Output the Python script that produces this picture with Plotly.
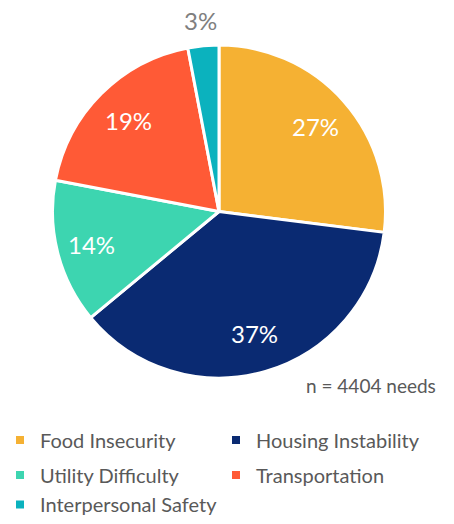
import math
import plotly.graph_objects as go

# Share of screened social needs by category
categories = ["Food Insecurity", "Housing Instability", "Utility Difficulty",
              "Transportation", "Interpersonal Safety"]
shares = [27, 37, 14, 19, 3]
colors = ["#F5B133", "#0A2A72", "#3DD5B0", "#FF5A36", "#0BB2BE"]
label_colors = ["white", "white", "white", "white", "#7F7F7F"]
label_radius = [0.77, 0.76, 0.79, 0.77, 1.15]   # fraction of pie radius
total_needs = 4404

FONT = "Lato"
GRAY = "#595959"
W, H = 454, 524

# Pie placement (pixels)
CX, CY, R = 219, 211.5, 166.5
dom_x = [(CX - R) / W, (CX + R) / W]
dom_y = [1 - (CY + R) / H, 1 - (CY - R) / H]

fig = go.Figure()

fig.add_trace(go.Pie(
    labels=categories,
    values=shares,
    sort=False,
    direction="clockwise",
    rotation=0,
    marker=dict(colors=colors, line=dict(color="white", width=3)),
    textinfo="none",
    showlegend=False,
    domain=dict(x=dom_x, y=dom_y),
    hoverinfo="label+percent",
))

# Percentage labels placed along each slice's mid-angle
annotations = []
total = sum(shares)
cum = 0.0
for val, col, rf in zip(shares, label_colors, label_radius):
    mid = (cum + val / 2) / total * 2 * math.pi   # clockwise from 12 o'clock
    cum += val
    px = CX + rf * R * math.sin(mid)
    py = CY - rf * R * math.cos(mid)
    annotations.append(dict(
        text=f"{val}%", x=px / W, y=1 - py / H, xref="paper", yref="paper",
        xanchor="center", yanchor="middle", showarrow=False,
        font=dict(family=FONT, size=24, color=col),
    ))

annotations.append(dict(
    text=f"n = {total_needs} needs", x=438 / W, y=1 - 385 / H,
    xref="paper", yref="paper", xanchor="right", yanchor="middle",
    showarrow=False, font=dict(family=FONT, size=19, color=GRAY),
))

# Legend grid: two columns, three rows; each entry gets its own legend box
# (boxes kept inside the page so they do not push the margins)
col_x = [0.0, 216 / W]
row_pos = [(1 - 440 / H, "middle"), (1 - 475 / H, "middle"), (0.0, "bottom")]
legend_layout = {}
for i, name in enumerate(categories):
    key = "legend" if i == 0 else f"legend{i + 1}"
    fig.add_trace(go.Scatter(
        x=[None], y=[None], mode="markers", name=name,
        marker=dict(symbol="square", size=8, color=colors[i]),
        legend=key, showlegend=True,
    ))
    y, yanchor = row_pos[i // 2]
    legend_layout[key] = dict(
        orientation="h", x=col_x[i % 2], y=y,
        xanchor="left", yanchor=yanchor,
        font=dict(family=FONT, size=20, color=GRAY),
        itemsizing="trace", bgcolor="rgba(0,0,0,0)",
    )

fig.update_layout(
    width=W, height=H,
    margin=dict(l=0, r=0, t=0, b=0),
    paper_bgcolor="white", plot_bgcolor="white",
    xaxis=dict(visible=False), yaxis=dict(visible=False),
    annotations=annotations,
    **legend_layout,
)

fig.write_html("out.html")
